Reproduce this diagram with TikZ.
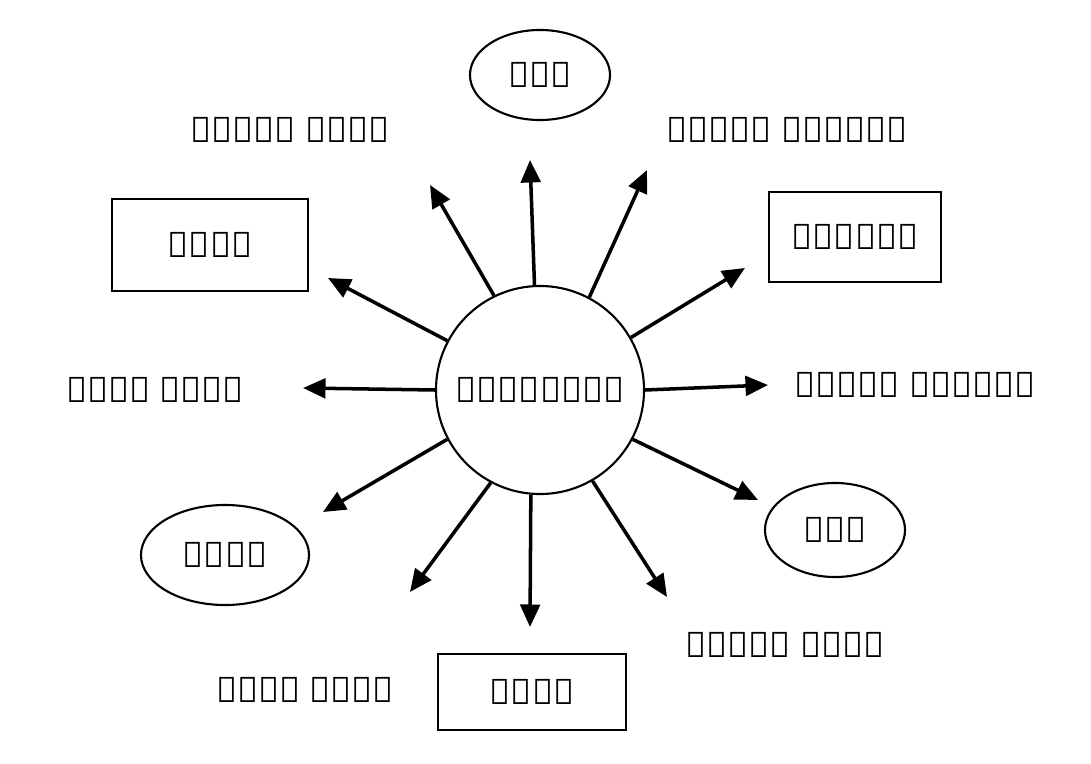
\documentclass[tikz,border=0pt]{standalone}
\usepackage{fontspec}
\newfontfamily\bnfont{Noto Sans}
\usetikzlibrary{arrows.meta,shapes.geometric,positioning}

\tikzset{
  lbl/.style={font=\bnfont\fontsize{25}{30}\selectfont, inner sep=2pt},
  oval/.style={lbl, ellipse, draw, line width=1.5pt},
  box/.style={lbl, rectangle, draw, line width=1.5pt},
  ray/.style={-{Triangle[length=16pt,width=14pt]}, line width=2.5pt}
}

\begin{document}
\begin{tikzpicture}[x=0.025cm, y=-0.025cm]
    \useasboundingbox (0,0) rectangle (1091,763);

   \node[circle, draw, line width=1.5pt, minimum size=5.2cm, lbl] (wheel) at (540,390) {বর্ণচক্র};

   \node[oval, minimum width=3.5cm, minimum height=2.25cm] (red)    at (540,75)  {লাল};
   \node[lbl]                                              (redor)  at (290,130) {লালচে কমলা};
   \node[lbl]                                              (redvi)  at (787,130) {লালচে বেগুনি};
   \node[box, minimum width=4.9cm, minimum height=2.3cm]   (orange) at (210,245) {কমলা};
   \node[box, minimum width=4.3cm, minimum height=2.25cm]  (violet) at (855,237) {বেগুনি};
   \node[lbl]                                              (yelor)  at (155,390) {হলদে কমলা};
   \node[lbl]                                              (bluvi)  at (915,385) {নীলচে বেগুনি};
   \node[oval, minimum width=4.2cm, minimum height=2.5cm]  (yellow) at (225,555) {হলুদ};
   \node[oval, minimum width=3.5cm, minimum height=2.35cm] (blue)   at (835,530) {নীল};
   \node[lbl]                                              (blugr)  at (785,645) {নীলচে সবুজ};
   \node[lbl]                                              (yelgr)  at (305,690) {হলদে সবুজ};
   \node[box, minimum width=4.7cm, minimum height=1.9cm]   (green)  at (532,692) {সবুজ};

   % arrow heads
   \coordinate (t1)  at (530,160);
   \coordinate (t2)  at (430,185);
   \coordinate (t3)  at (647,170);
   \coordinate (t4)  at (745,268);
   \coordinate (t5)  at (328,278);
   \coordinate (t6)  at (768,385);
   \coordinate (t7)  at (303,388);
   \coordinate (t8)  at (758,500);
   \coordinate (t9)  at (323,512);
   \coordinate (t10) at (667,597);
   \coordinate (t11) at (410,592);
   \coordinate (t12) at (530,627);

   \path[ray]
    (wheel.93)  edge (t1)
    (wheel.116) edge (t2)
    (wheel.62)  edge (t3)
    (wheel.30)  edge (t4)
    (wheel.152) edge (t5)
    (wheel.0)   edge (t6)
    (wheel.180) edge (t7)
    (wheel.-28) edge (t8)
    (wheel.-152) edge (t9)
    (wheel.-60) edge (t10)
    (wheel.-118) edge (t11)
    (wheel.-95) edge (t12);

\end{tikzpicture}
\end{document}
